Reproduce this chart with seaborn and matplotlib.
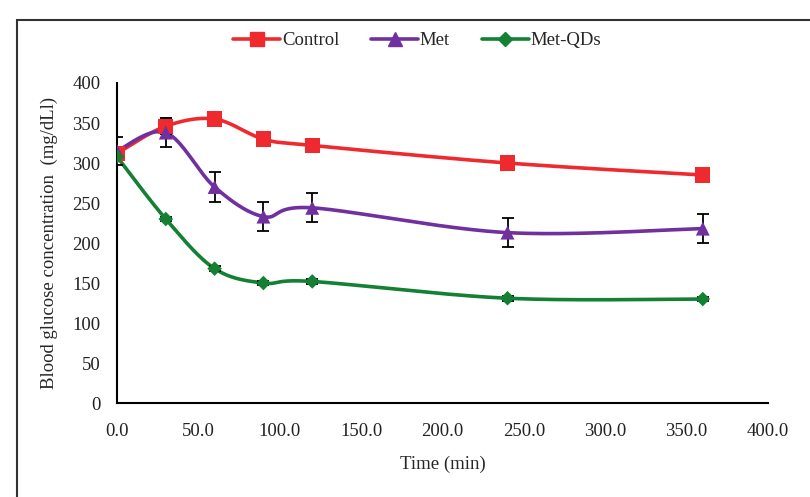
import numpy as np
import pandas as pd
import matplotlib
matplotlib.use("Agg")
import matplotlib.pyplot as plt
import seaborn as sns
from matplotlib.lines import Line2D
from matplotlib.patches import Rectangle

# =====================================================
# DONNÉES
# =====================================================
temps = [0, 30, 60, 90, 120, 240, 360]

control = [312, 346, 355, 330, 322, 300, 285]
control_err = [6, 10, 8, 4, 5, 3, 3]

met = [315, 338, 270, 233, 244, 213, 218]
met_err = [18, 18, 19, 18, 18, 18, 18]

met_qds = [308, 230, 168, 150, 152, 131, 130]
met_qds_err = [3, 3, 3, 3, 3, 3, 3]

series = ["Control", "Met", "Met-QDs"]
couleurs = {"Control": "#EE2A2E", "Met": "#7030A0", "Met-QDs": "#138033"}
marqueurs = {"Control": "s", "Met": "^", "Met-QDs": "D"}
tailles = {"Control": 120, "Met": 100, "Met-QDs": 55}
tailles_leg = {"Control": 10, "Met": 9.5, "Met-QDs": 7}

df = pd.DataFrame({
    "Temps": temps * 3,
    "Glycemie": control + met + met_qds,
    "Erreur": control_err + met_err + met_qds_err,
    "Groupe": ["Control"] * 7 + ["Met"] * 7 + ["Met-QDs"] * 7,
})

# =====================================================
# LISSAGE FACON EXCEL (Bezier / Catmull-Rom)
# =====================================================
def lissage(x, y, n=40):
    x = np.asarray(x, float)
    y = np.asarray(y, float)
    px = np.concatenate([[x[0]], x, [x[-1]]])
    py = np.concatenate([[y[0]], y, [y[-1]]])
    xs, ys = [], []
    t = np.linspace(0, 1, n)
    for i in range(1, len(px) - 2):
        p0 = np.array([px[i], py[i]])
        p3 = np.array([px[i + 1], py[i + 1]])
        p1 = p0 + (p3 - np.array([px[i - 1], py[i - 1]])) / 6
        p2 = p3 - (np.array([px[i + 2], py[i + 2]]) - p0) / 6
        b = ((1 - t) ** 3)[:, None] * p0 + (3 * (1 - t) ** 2 * t)[:, None] * p1 \
            + (3 * (1 - t) * t ** 2)[:, None] * p2 + (t ** 3)[:, None] * p3
        xs.extend(b[:, 0])
        ys.extend(b[:, 1])
    return xs, ys

# =====================================================
# FIGURE
# =====================================================
sns.set_style("white")
plt.rcParams["font.family"] = ["Liberation Serif", "DejaVu Serif"]

fig = plt.figure(figsize=(8.1, 4.97), dpi=100)
ax = fig.add_axes([0.1444, 0.189, 0.8036, 0.644])

for g in series:
    d = df[df["Groupe"] == g]
    xs, ys = lissage(d["Temps"], d["Glycemie"])
    ax.plot(xs, ys, color=couleurs[g], lw=2.6, zorder=2, solid_capstyle="round")
    ax.errorbar(d["Temps"], d["Glycemie"], yerr=d["Erreur"], fmt="none",
                ecolor="black", elinewidth=1.3, capsize=4, capthick=1.3, zorder=3)
    sns.scatterplot(data=d, x="Temps", y="Glycemie", color=couleurs[g],
                    marker=marqueurs[g], s=tailles[g], edgecolor="none",
                    ax=ax, zorder=4, legend=False)

ax.set_xlim(0, 400)
ax.set_ylim(0, 400)
ax.set_xticks(np.arange(0, 401, 50))
ax.set_xticklabels([f"{v:.1f}" for v in np.arange(0, 401, 50)])
ax.set_yticks(np.arange(0, 401, 50))
ax.tick_params(axis="both", length=0, labelsize=13.5, colors="#222222")
ax.tick_params(axis="x", pad=14)
ax.tick_params(axis="y", pad=12)
ax.set_xlabel("Time (min)", fontsize=13.5, labelpad=12)
ax.set_ylabel("Blood glucose concentration  (mg/dLl)", fontsize=13.5, labelpad=10)

for s in ["top", "right"]:
    ax.spines[s].set_visible(False)
for s in ["left", "bottom"]:
    ax.spines[s].set_color("black")
    ax.spines[s].set_linewidth(1.5)

# légende
handles = [Line2D([0], [0], color=couleurs[g], lw=2.6, marker=marqueurs[g],
                  markersize=tailles_leg[g])
           for g in series]
fig.legend(handles, series, loc="center", bbox_to_anchor=(0.515, 0.918), ncol=3,
           frameon=False, fontsize=13.5, handlelength=2.5, handletextpad=0.1,
           columnspacing=1.7)

# cadre autour de la figure
fig.patches.append(Rectangle((17 / 810, -0.1), 1.2, 1 - 20 / 497 + 0.1,
                             transform=fig.transFigure, fill=False,
                             edgecolor="#333333", lw=1.5))

fig.savefig("out.png", dpi=100)
